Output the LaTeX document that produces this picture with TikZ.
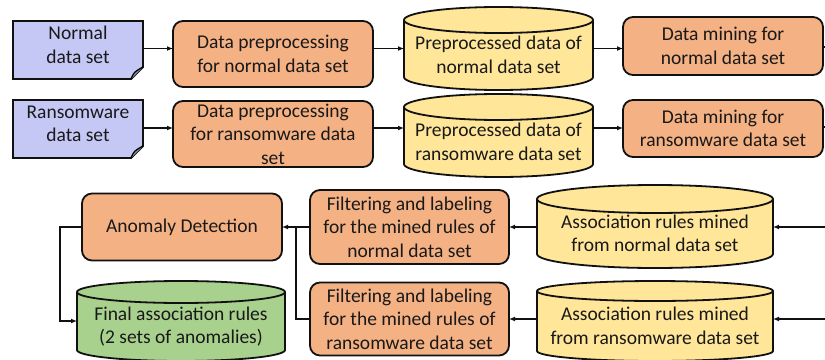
\documentclass[tikz,border=0pt]{standalone}
\usepackage{fontspec}
\setmainfont{Carlito}
\usetikzlibrary{arrows.meta,calc}
\definecolor{docblue}{HTML}{C5C8F4}
\definecolor{procor}{HTML}{F4B183}
\definecolor{dbyel}{HTML}{FFE699}
\definecolor{dbgreen}{HTML}{A9D18E}
\definecolor{edge}{HTML}{111111}
% #1 name, #2 cx, #3 cy, #4 w, #5 h, #6 ry, #7 text, #8 colour
\newcommand\cylshape[8]{%
  \filldraw[cylline, fill=#8] ({#2-#4/2},{-#3+#5/2-#6}) -- ({#2-#4/2},{-#3-#5/2+#6})
    arc[start angle=180, end angle=360, x radius={(#4/2)*1pt}, y radius={#6*1pt}]
    -- ({#2+#4/2},{-#3+#5/2-#6})
    arc[start angle=0, end angle=180, x radius={(#4/2)*1pt}, y radius={#6*1pt}] -- cycle;
  \draw[cylline] ({#2-#4/2},{-#3+#5/2-#6})
    arc[start angle=180, end angle=360, x radius={(#4/2)*1pt}, y radius={#6*1pt}];
  \node[shapebox, minimum width=#4pt, minimum height=#5pt] (#1) at (#2,-#3) {};
  \node[txt] (#1-t) at (#2,{-#3-#6/2}) {#7};
}
% #1 name, #2 cx, #3 cy, #4 w, #5 h, #6 text
\newcommand\docshape[6]{%
  \filldraw[cylline, fill=docblue, line join=miter] ({#2-#4/2},{-#3+#5/2}) -- ({#2+#4/2},{-#3+#5/2})
    -- ({#2+#4/2},{-#3-#5/2+12}) -- ({#2+#4/2-12},{-#3-#5/2}) -- ({#2-#4/2},{-#3-#5/2}) -- cycle;
  \filldraw[line width=1.2pt, fill=docblue!70!black] ({#2+#4/2-12},{-#3-#5/2})
    .. controls ({#2+#4/2-9},{-#3-#5/2+7}) .. ({#2+#4/2},{-#3-#5/2+12});
  \node[shapebox, minimum width=#4pt, minimum height=#5pt] (#1) at (#2,-#3) {};
  \node[txt] (#1-t) at (#2,{-#3+5}) {#6};
}
\begin{document}
\begin{tikzpicture}[x=1pt,y=1pt,
  txt/.style={align=center, inner sep=0pt, font=\fontsize{19.5}{23.5}\selectfont, text=black!90},
  shapebox/.style={inner sep=0pt, outer sep=0pt},
  cylline/.style={draw=edge, line width=1.8pt},
  procbox/.style={txt, draw=edge, line width=1.8pt, fill=procor, rounded corners=10pt, outer sep=0pt},
  conn/.style={draw=edge, line width=1.6pt},
  arr/.style={conn, -{Latex[length=6pt,width=5pt]}}]
\clip (0,0) rectangle (825,-359);
\fill[white] (0,0) rectangle (825,-359);

% row 1
\docshape{doc1}{78}{50}{130}{58}{Normal\\data set}
\node[procbox, minimum width=200pt, minimum height=66pt] (pre1) at (273,-54) {Data preprocessing\\for normal data set};
\cylshape{cyl1}{498.5}{48.5}{189}{83}{13}{Preprocessed data of\\normal data set}{dbyel}
\node[procbox, minimum width=200pt, minimum height=58pt] (mine1) at (723,-46) {Data mining for\\normal data set};

% row 2
\docshape{doc2}{78}{129}{130}{58}{Ransomware\\data set}
\node[procbox, minimum width=200pt, minimum height=66pt] (pre2) at (273,-134) {Data preprocessing\\for ransomware data\\set};
\cylshape{cyl2}{498.5}{135.5}{189}{83}{13}{Preprocessed data of\\ransomware data set}{dbyel}
\node[procbox, minimum width=200pt, minimum height=57pt] (mine2) at (723,-128.5) {Data mining for\\ransomware data set};

% row 3
\node[procbox, minimum width=200pt, minimum height=67pt] (anom) at (182,-227) {Anomaly Detection};
\node[procbox, minimum width=199pt, minimum height=74pt] (filt1) at (409.5,-227) {Filtering and labeling\\for the mined rules of\\normal data set};
\cylshape{cyl3}{655}{226.5}{236}{83}{14}{Association rules mined\\from normal data set}{dbyel}

% row 4
\cylshape{final}{181}{321}{208}{80}{11}{Final association rules\\(2 sets of anomalies)}{dbgreen}
\node[procbox, minimum width=199pt, minimum height=73pt] (filt2) at (409.5,-319) {Filtering and labeling\\for the mined rules of\\ransomware data set};
\cylshape{cyl4}{655}{321}{236}{80}{10}{Association rules mined\\from ransomware data set}{dbyel}

% helper coordinates
\coordinate (y1) at (0,-48.5);
\coordinate (y2) at (0,-128);
\coordinate (out1) at (826,-47);
\coordinate (out2) at (826,-127);
\coordinate (in3) at (826,-227);
\coordinate (in4) at (826,-319);
\coordinate (j) at ($(anom.east)!0.5!(filt1.west)$);

% connectors row 1
\draw[arr] (doc1.east |- y1) -- (pre1.west |- y1);
\draw[arr] (pre1.east |- y1) -- (cyl1.west |- y1);
\draw[arr] (cyl1.east |- y1) -- (mine1.west |- y1);
\draw[conn] (mine1.east |- out1) -- (out1);
% connectors row 2
\draw[arr] (doc2.east |- y2) -- (pre2.west |- y2);
\draw[arr] (pre2.east |- y2) -- (cyl2.west |- y2);
\draw[arr] (cyl2.east |- y2) -- (mine2.west |- y2);
\draw[conn] (mine2.east |- out2) -- (out2);
% connectors row 3/4
\draw[arr] (in3) -- (cyl3.east |- in3);
\draw[arr] (cyl3.west |- in3) -- (filt1.east |- in3);
\draw[arr] (filt1.west) -- (anom.east);
\draw[conn] (filt2.west) -| (j);
\draw[arr] (in4) -- (cyl4.east |- in4);
\draw[arr] (cyl4.west |- in4) -- (filt2.east |- in4);
\draw[arr] (anom.west) -- ++(-22,0) |- (final.west);
\end{tikzpicture}
\end{document}
